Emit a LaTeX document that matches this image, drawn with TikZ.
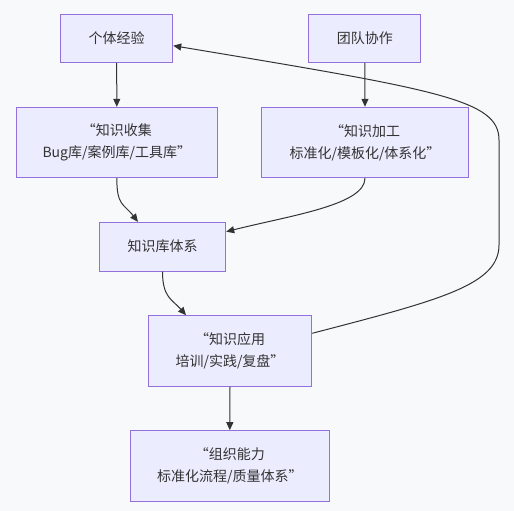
\documentclass[tikz,border=0pt]{standalone}
\usepackage{fontspec}
\setmainfont{Noto Sans CJK SC}
\usepackage{xcolor}
\usetikzlibrary{positioning,arrows.meta}
\definecolor{bgcol}{HTML}{F8F9FA}
\definecolor{boxfill}{HTML}{ECECFF}
\definecolor{boxline}{HTML}{9370DB}
\definecolor{inkcol}{HTML}{333333}
\tikzset{
  box/.style={draw=boxline, fill=boxfill, line width=1pt, text=inkcol,
    align=center, inner sep=0pt, font={\fontsize{14}{22}\selectfont}},
  flow/.style={draw=inkcol, line width=1pt, -{Triangle[length=8pt,width=7pt]}}
}

\begin{document}
\begin{tikzpicture}[x=1pt, y=1pt]

% Background and fixed size of the picture
\fill[bgcol] (0,0) rectangle (514,-511);
\useasboundingbox (0,0) rectangle (514,-511);

% Sources of knowledge
\node[box, minimum width=112, minimum height=48.3] (exp) at (116.7,-38.2) {个体经验};
\node[box, minimum width=111.7, minimum height=48.3] (team) at (364.8,-38.2) {团队协作};

% Collecting and processing
\node[box, minimum width=201, minimum height=70.4] (collect) at (116.8,-142.5) {“知识收集\\Bug库/案例库/工具库”};
\node[box, minimum width=206.6, minimum height=70.4] (process) at (365,-142.5) {“知识加工\\标准化/模板化/体系化”};

% Knowledge base
\node[box, minimum width=126.4, minimum height=48.7] (kb) at (162.5,-246.7) {知识库体系};

% Application and result
\node[box, minimum width=163.4, minimum height=70.6] (apply) at (230,-351) {“知识应用\\培训/实践/复盘”};
\node[box, minimum width=199, minimum height=70.6] (org) at (229.8,-466) {“组织能力\\标准化流程/质量体系”};

% Straight arrows
\draw[flow] (exp.south) -- (collect.north);
\draw[flow] (team.south) -- (process.north);
\draw[flow] (apply.south) -- (org.north);

% Curved arrows into the knowledge base and on to application
\draw[flow] (collect.south) .. controls +(0,-28) and +(-14,18) .. ([xshift=-24.5pt]kb.north);
\draw[flow] (process.south) .. controls +(0,-27) and +(63,16) .. ([yshift=15pt]kb.east);
\draw[flow] (kb.south) .. controls +(0,-26) and +(-14,16) .. ([xshift=-44pt]apply.north);

% Feedback loop back to individual experience
\draw[flow] ([yshift=17.7pt]apply.east) .. controls (440,-300) and (499,-285) .. (499,-245)
  -- (499,-140) .. controls (499,-100) and (440,-90) .. ([yshift=-7.5pt]exp.east);

\end{tikzpicture}
\end{document}
